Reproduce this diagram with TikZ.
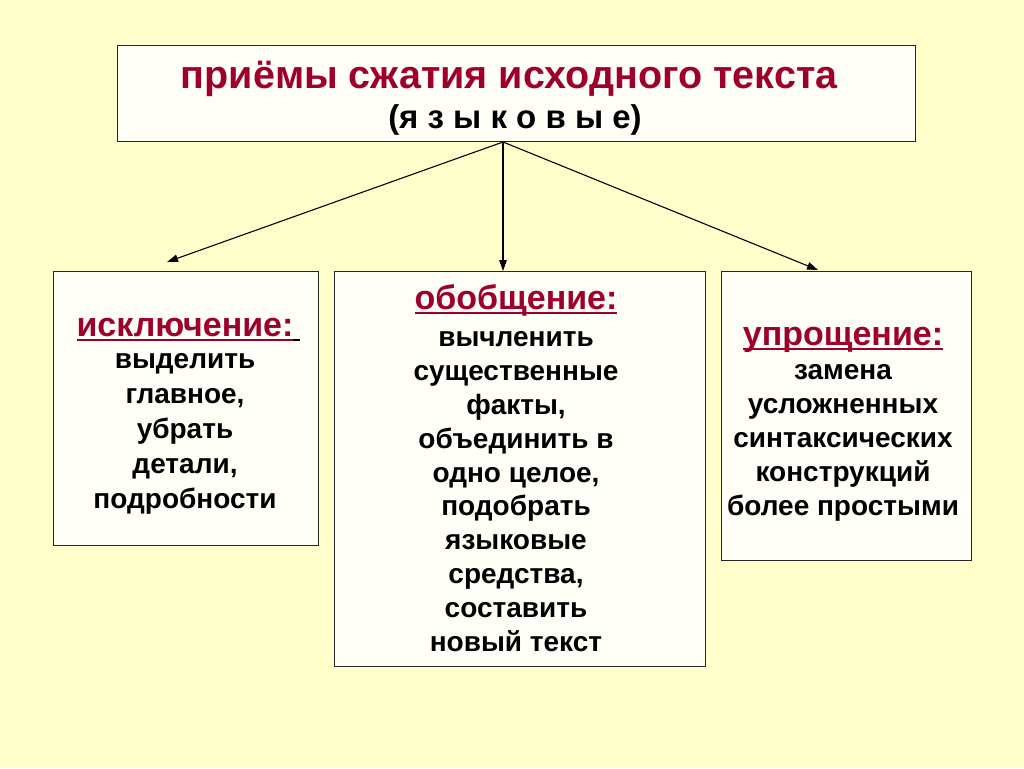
\documentclass[tikz,border=0pt]{standalone}
\usepackage{fontspec}
\setmainfont{Liberation Sans}
\usetikzlibrary{arrows.meta}
\definecolor{bg}{RGB}{255,255,204}
\definecolor{boxfill}{RGB}{255,255,247}
\definecolor{dred}{RGB}{158,0,46}
\newsavebox\hdbox
\newcommand\hd[2][0pt]{\sbox\hdbox{\fontsize{34}{34}\selectfont\color{dred}#2}%
  \rlap{\color{dred}\rule[-5pt]{\wd\hdbox}{2pt}}%
  \ifdim#1>0pt\rlap{\hspace{\wd\hdbox}\rule[-5pt]{#1}{2pt}}\fi\usebox\hdbox\hspace{#1}}
\newcommand\ns{\spaceskip=0pt\xspaceskip=0pt\relax}
\begin{document}
\begin{tikzpicture}[x=1pt,y=-1pt,
  box/.style={draw=black!85,line width=1.3pt,fill=boxfill,inner sep=0pt,anchor=north west},
  body/.style={font=\bfseries\fontsize{28}{34}\selectfont,align=center,inner sep=0pt,anchor=base},
  arr/.style={-{Triangle[length=11pt,width=7.5pt]},line width=1.1pt}]
\fill[bg] (0,0) rectangle (1024,768);
\useasboundingbox (0,0) rectangle (1024,768);

\node[box,minimum width=798pt,minimum height=96pt] (top) at (117,45) {};
\node[font=\bfseries\fontsize{39.5}{40}\selectfont,text=dred,inner sep=0pt,anchor=base] (t1) at (509,88) {приёмы сжатия исходного текста};
\node[font=\bfseries\fontsize{33}{34}\selectfont,inner sep=0pt,anchor=base] (t2) at (515,128) {(я з ы к о в ы е)};

\node[box,minimum width=265pt,minimum height=274pt] (left) at (53,271) {};
\node[box,minimum width=371pt,minimum height=395pt] (mid) at (334,271) {};
\node[box,minimum width=250pt,minimum height=289pt] (right) at (721,271) {};

\node[body,font=\bfseries\fontsize{28}{35}\selectfont] (lt) at (185,508)
  {\ns\hd[7pt]{исключение:}\\[-3pt]
   выделить\\ главное,\\ убрать\\ детали,\\ подробности};

\node[body,font=\bfseries\fontsize{28}{33.8}\selectfont] (mt) at (516,651)
  {\ns\hd{обобщение:}\\[4pt]
   вычленить\\ существенные\\ факты,\\ объединить в\\ одно целое,\\ подобрать\\ языковые\\ средства,\\ составить\\ новый текст};

\node[body] (rt) at (843,515)
  {\ns\hd{упрощение:}\\
   замена\\ усложненных\\ синтаксических\\ конструкций\\ более простыми};

\coordinate (s) at (503,142);
\coordinate (eL) at (167,262);
\coordinate (eR) at (818,270);
\draw[arr] (s) -- (eL);
\draw[arr] (s) -- (s |- mid.north);
\draw[arr] (s) -- (eR);
\end{tikzpicture}
\end{document}
